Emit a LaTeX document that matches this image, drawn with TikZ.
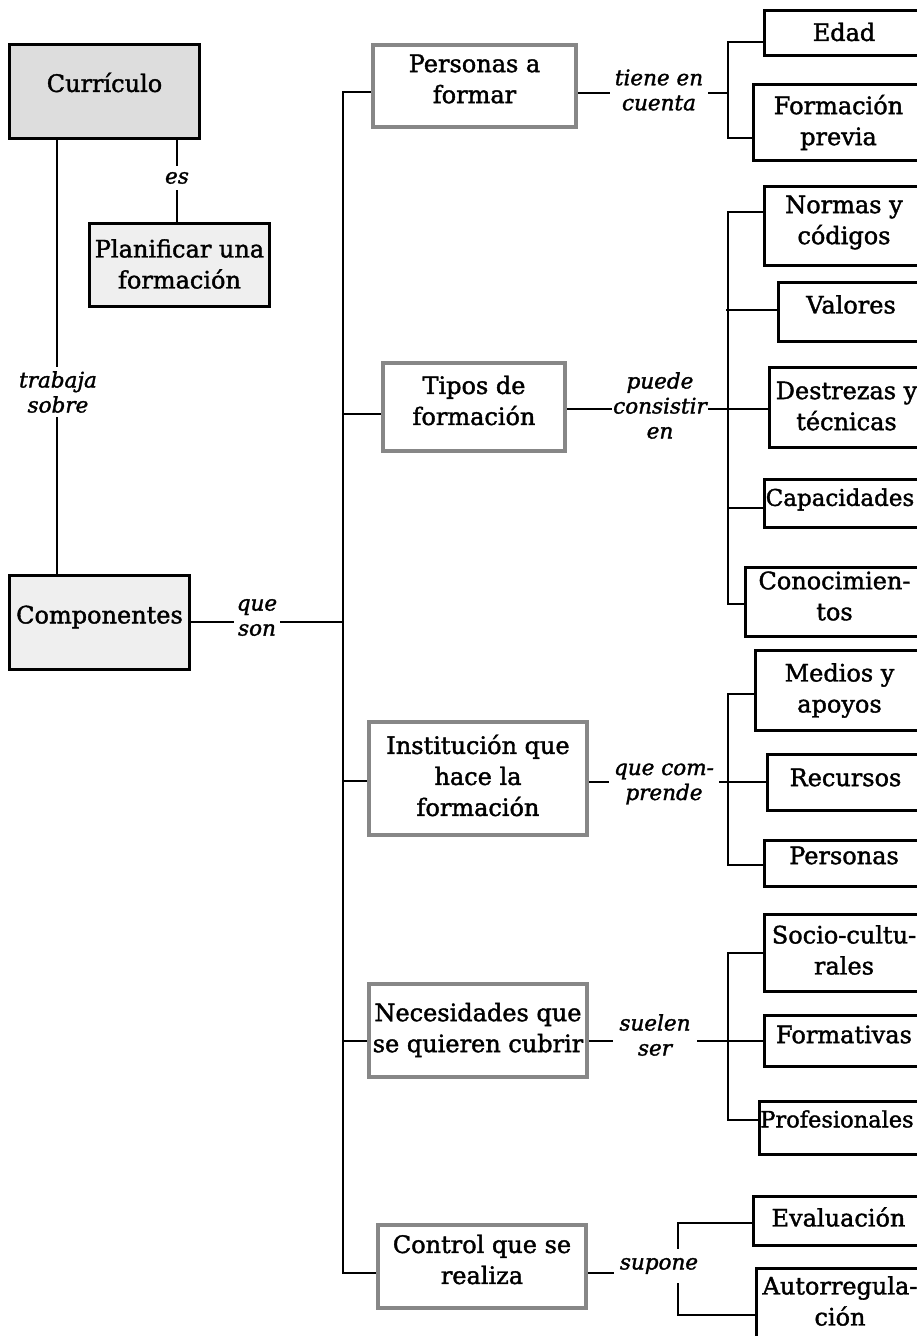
\documentclass[tikz,border=0pt]{standalone}
\usepackage{fontspec}
\setmainfont[FakeBold=1.6]{DejaVu Serif}
\definecolor{gbd}{RGB}{135,135,135}
\definecolor{fillA}{RGB}{221,221,221}
\definecolor{fillB}{RGB}{239,239,239}
\begin{document}
\begin{tikzpicture}[x=1pt,y=-1pt,
  ln/.style={line width=2.8pt},
  bbox/.style={draw=black, line width=2.8pt, fill=white, inner sep=0pt},
  gbox/.style={draw=gbd, line width=4.5pt, fill=white, inner sep=0pt},
  bt/.style={font=\fontsize{24}{31}\selectfont, align=center, inner sep=0pt},
  lab/.style={font=\fontsize{21.5}{25}\selectfont\itshape, align=center, fill=white, inner xsep=3pt, inner ysep=2pt},
]
\useasboundingbox (0,0) rectangle (916,1336);

% left column
\node[bbox, fill=fillA, minimum width=190.5pt, minimum height=94.5pt, label={[bt,yshift=9pt]center:Currículo}] (cur) at (104.5,91.5) {};
\node[bbox, fill=fillB, minimum width=180.5pt, minimum height=83.5pt, label={[bt,yshift=1pt]center:{Planificar una\\formación}}] (plan) at (179.5,265) {};
\node[bbox, fill=fillB, minimum width=180.5pt, minimum height=94.5pt, label={[bt,yshift=5.5pt]center:Componentes}] (comp) at (99.5,622.5) {};

% middle column
\node[gbox, minimum width=203pt, minimum height=82pt, label={[bt,yshift=7pt]center:{Personas a\\formar}}] (pers) at (474.5,86) {};
\node[gbox, minimum width=182pt, minimum height=88pt, label={[bt,yshift=6.5pt]center:{Tipos de\\formación}}] (tipos) at (474,407) {};
\node[gbox, minimum width=218pt, minimum height=113pt, label={[bt,yshift=3pt]center:{Institución que\\hace la\\formación}}] (inst) at (478,778.5) {};
\node[gbox, minimum width=218pt, minimum height=93pt, label={[bt,yshift=0.5pt]center:{Necesidades que\\se quieren cubrir}}] (nec) at (478,1030.5) {};
\node[gbox, minimum width=208pt, minimum height=83pt, label={[bt,yshift=7pt]center:{Control que se\\realiza}}] (ctrl) at (482,1266.5) {};

% right column
\node[bbox, minimum width=159.5pt, minimum height=45.5pt, label={[bt,yshift=1pt]center:Edad}] (edad) at (844,33) {};
\node[bbox, minimum width=170.5pt, minimum height=76.5pt, label={[bt]center:{Formación\\previa}}] (formp) at (838.5,122.5) {};
\node[bbox, minimum width=159.5pt, minimum height=79.5pt, label={[bt,yshift=3.5pt]center:{Normas y\\códigos}}] (normas) at (844,226) {};
\node[bbox, minimum width=145.5pt, minimum height=59.5pt, label={[bt,yshift=7.5pt]center:Valores}] (valores) at (851,312) {};
\node[bbox, minimum width=154.5pt, minimum height=80.5pt, label={[bt,yshift=1.5pt]center:{Destrezas y\\técnicas}}] (destrezas) at (846.5,407.5) {};
\node[bbox, minimum width=159.5pt, minimum height=48.5pt, label={[bt,font=\fontsize{23}{31}\selectfont,yshift=4pt,xshift=-4pt]center:Capacidades}] (capac) at (844,503.5) {};
\node[bbox, minimum width=178.5pt, minimum height=69.5pt, label={[bt,yshift=6pt]center:{Conocimien-\\tos}}] (conoc) at (834.5,602) {};
\node[bbox, minimum width=168.5pt, minimum height=80.5pt, label={[bt]center:{Medios y\\apoyos}}] (medios) at (839.5,690.5) {};
\node[bbox, minimum width=156.5pt, minimum height=56.5pt, label={[bt,yshift=5pt]center:Recursos}] (recursos) at (845.5,782.5) {};
\node[bbox, minimum width=159.5pt, minimum height=46.5pt, label={[bt,yshift=8pt]center:Personas}] (personas) at (844,863.5) {};
\node[bbox, minimum width=159.5pt, minimum height=77.5pt, label={[bt,yshift=3pt]center:{Socio-cultu-\\rales}}] (socio) at (844,953) {};
\node[bbox, minimum width=159.5pt, minimum height=51.5pt, label={[bt,yshift=6.5pt]center:Formativas}] (format) at (844,1041) {};
\node[bbox, minimum width=164.5pt, minimum height=53.5pt, label={[bt,font=\fontsize{22.5}{31}\selectfont,yshift=9pt,xshift=-4.5pt]center:Profesionales}] (profes) at (841.5,1128) {};
\node[bbox, minimum width=170.5pt, minimum height=49.5pt, label={[bt,yshift=4pt]center:Evaluación}] (eval) at (838.5,1221) {};
\node[bbox, minimum width=167.5pt, minimum height=80.5pt, label={[bt,yshift=7.5pt]center:{Autorregula-\\ción}}] (autor) at (840,1308.5) {};

% coordinates
\coordinate (xl) at (57,0);
\coordinate (xe) at (177,0);
\coordinate (tc) at (343,622);
\coordinate (t1) at (343,92);
\coordinate (t2) at (343,414);
\coordinate (t3) at (343,781);
\coordinate (t4) at (343,1041);
\coordinate (t5) at (343,1273);
\coordinate (b1a) at (728,42);
\coordinate (b1m) at (728,93);
\coordinate (b1b) at (728,138);
\coordinate (b2a) at (728,212);
\coordinate (b2v) at (728,310);
\coordinate (b2m) at (728,409);
\coordinate (b2c) at (728,508);
\coordinate (b2b) at (728,604);
\coordinate (b3a) at (728,694);
\coordinate (b3m) at (728,782);
\coordinate (b3b) at (728,865);
\coordinate (b4a) at (728,953);
\coordinate (b4m) at (728,1041);
\coordinate (b4b) at (728,1120);
\coordinate (b5a) at (678,1223);
\coordinate (b5m) at (678,1273);
\coordinate (b5b) at (678,1315);

% connectors
\draw[ln] (cur.south -| xl) -- (comp.north -| xl);
\draw[ln] (cur.south -| xe) -- (plan.north -| xe);
\draw[ln] (comp.east |- tc) -- (tc);
\draw[ln] (t1 -| pers.west) -- (t1) -- (t5) -- (t5 -| ctrl.west);
\draw[ln] (t2) -- (t2 -| tipos.west);
\draw[ln] (t3) -- (t3 -| inst.west);
\draw[ln] (t4) -- (t4 -| nec.west);

\draw[ln] (pers.east |- b1m) -- (b1m);
\draw[ln] (edad.west |- b1a) -- (b1a) -- (b1b) -- (b1b -| formp.west);

\draw[ln] (tipos.east |- b2m) -- (b2m -| destrezas.west);
\draw[ln] (normas.west |- b2a) -- (b2a) -- (b2b) -- (b2b -| conoc.west);
\draw[ln] ([xshift=-2pt]b2v) -- (b2v -| valores.west);
\draw[ln] (b2c) -- (b2c -| capac.west);

\draw[ln] (inst.east |- b3m) -- (b3m -| recursos.west);
\draw[ln] (medios.west |- b3a) -- (b3a) -- (b3b) -- (b3b -| personas.west);

\draw[ln] (nec.east |- b4m) -- (b4m -| format.west);
\draw[ln] (socio.west |- b4a) -- (b4a) -- (b4b) -- (b4b -| profes.west);

\draw[ln] (ctrl.east |- b5m) -- (b5m);
\draw[ln] (eval.west |- b5a) -- (b5a) -- (b5b) -- (b5b -| autor.west);

% connector labels
\node[lab, inner ysep=6pt] (les) at (177,178) {es};
\node[lab, inner ysep=4pt] (ltrab) at (58,392) {trabaja\\sobre};
\node[lab] (lson) at (257,617.5) {que\\son};
\node[lab, inner xsep=5pt] (lcuenta) at (659,90) {tiene en\\cuenta};
\node[lab, inner xsep=1pt] (lcons) at (660,405.5) {puede\\consistir\\en};
\node[lab, inner xsep=5pt] (lcomp) at (664,784) {que com-\\prende};
\node[lab, inner xsep=6pt] (lsuel) at (655,1035) {suelen\\ser};
\node[lab, inner xsep=6pt, inner ysep=9pt] (lsup) at (659,1266) {supone};
\end{tikzpicture}
\end{document}
